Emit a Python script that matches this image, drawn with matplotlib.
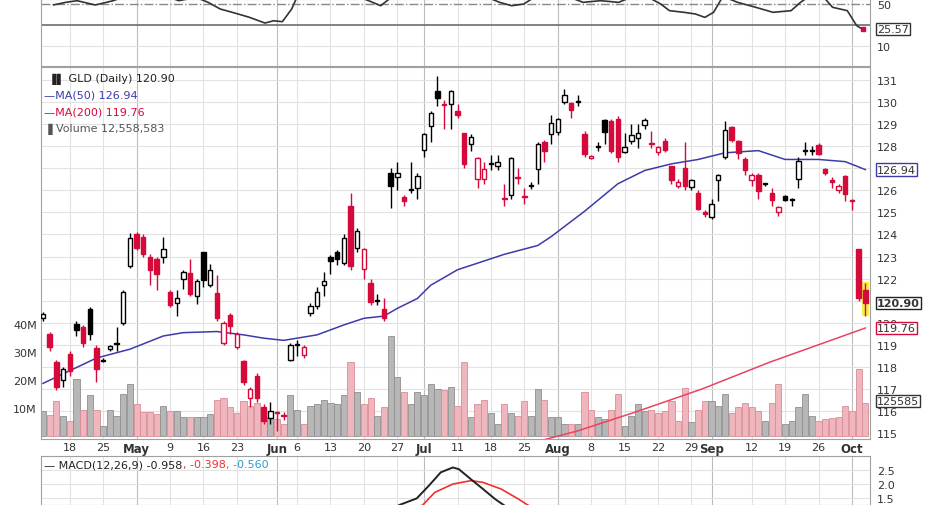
import matplotlib
matplotlib.use("Agg")
import matplotlib.pyplot as plt
import numpy as np
from matplotlib.patches import Rectangle

# daily candles, Apr 12 .. Oct 5 (trading days)
opens = [120.2, 119.5, 118.2, 117.4,
         118.6, 119.95, 119.8, 120.6, 118.85,
         118.3, 118.8, 119.05, 120.0, 122.55,
         124.0, 123.9, 123.0, 122.9, 123.0,
         121.4, 120.9, 122.0, 122.25, 121.2,
         123.2, 121.7, 121.35, 119.1, 120.35,
         118.9, 118.25, 116.6, 117.6, 116.2,
         115.7, 115.95, 115.8, 118.3,
         119.0, 118.55, 120.45, 120.75, 121.7,
         123.0, 123.2, 122.7, 125.3, 123.4,
         122.45, 121.8, 121.0, 120.6, 126.8,
         126.6, 125.7, 126.0, 126.1, 127.85,
         128.9, 130.5, 129.9, 129.9,
         129.6, 128.6, 128.1, 126.5, 126.5,
         127.2, 127.1, 125.65, 125.8, 126.6,
         125.75, 126.2, 126.95, 128.2, 128.55,
         128.65, 130.0, 129.98, 130.05, 128.55,
         127.45, 127.95, 129.2, 129.15, 129.25,
         127.75, 128.25, 128.35, 128.95, 128.15,
         127.75, 128.25, 127.1, 126.2, 127.0,
         126.15, 125.9, 125.0, 124.8, 126.45,
         127.5, 128.85, 128.25, 127.4,
         126.45, 126.7, 126.32, 125.9, 125.0,
         125.75, 125.56, 126.5, 127.8, 127.8,
         128.05, 126.95, 126.45, 126.0, 126.65,
         125.55, 123.35, 121.5]
closes = [120.4, 118.9, 117.1, 117.9,
          117.8, 119.65, 119.1, 119.5, 117.9,
          118.28, 118.95, 119.1, 121.4, 123.85,
          123.4, 123.1, 122.4, 122.2, 123.35,
          120.8, 121.1, 122.3, 121.3, 121.9,
          121.95, 122.4, 120.2, 120.0, 119.85,
          119.5, 117.3, 117.0, 116.6, 115.55,
          116.0, 115.9, 115.75, 119.0,
          119.05, 118.9, 120.75, 121.4, 121.9,
          122.8, 122.9, 123.85, 122.55, 124.15,
          123.35, 120.95, 121.05, 120.2, 126.2,
          126.8, 125.5, 126.05, 126.65, 128.55,
          129.5, 130.2, 129.85, 130.5,
          129.4, 127.2, 128.4, 127.45, 126.95,
          127.25, 127.3, 125.6, 127.45, 126.55,
          125.7, 126.25, 128.1, 127.8, 129.05,
          129.25, 130.3, 129.65, 130.0, 127.65,
          127.55, 128.0, 128.65, 127.8, 127.5,
          127.95, 128.5, 128.6, 129.2, 128.1,
          127.95, 127.85, 126.45, 126.4, 126.2,
          126.45, 125.15, 124.95, 125.4, 126.7,
          128.75, 128.3, 127.7, 126.9,
          126.7, 125.95, 126.3, 125.55, 125.25,
          125.55, 125.55, 127.35, 127.82, 127.85,
          127.65, 126.8, 126.4, 126.2, 125.85,
          125.5, 121.1, 120.9]
highs = [120.5, 119.6, 118.3, 118.0,
         118.7, 120.1, 119.9, 120.7, 119.0,
         118.4, 119.0, 119.8, 121.5, 124.05,
         124.1, 124.0, 123.1, 123.0, 123.9,
         121.5, 121.5, 122.4, 122.9, 122.0,
         123.2, 122.65, 122.15, 120.1, 120.45,
         119.6, 118.3, 117.1, 117.7, 116.3,
         116.4, 116.0, 115.95, 119.1,
         119.2, 119.0, 120.9, 121.6, 122.3,
         123.05, 123.3, 124.0, 125.9, 124.3,
         123.4, 122.0, 121.3, 121.1, 127.0,
         127.3, 125.8, 127.3, 126.8, 128.6,
         129.6, 131.2, 130.1, 130.55,
         129.9, 128.6, 128.55, 127.5, 127.3,
         127.6, 127.6, 126.3, 127.5, 127.0,
         126.1, 126.4, 128.2, 128.3, 129.4,
         129.3, 130.6, 130.0, 130.3, 128.7,
         127.6, 128.2, 129.25, 129.25, 129.35,
         128.6, 129.0, 129.0, 129.3, 128.7,
         128.0, 128.35, 127.1, 126.5, 128.2,
         126.5, 126.0, 125.1, 125.6, 126.75,
         129.15, 128.9, 128.3, 127.5,
         126.8, 126.8, 126.35, 126.1, 125.3,
         125.8, 125.65, 127.5, 128.2, 128.0,
         128.15, 127.0, 126.6, 126.3, 126.7,
         125.6, 123.35, 121.8]
lows = [120.1, 118.7, 116.95, 117.1,
        117.6, 119.4, 118.9, 119.2, 117.3,
        118.2, 118.7, 118.7, 119.9, 122.5,
        123.3, 123.0, 121.7, 121.5, 122.7,
        120.7, 120.3, 121.55, 121.2, 120.85,
        121.6, 121.6, 120.1, 119.0, 119.5,
        118.8, 117.2, 116.2, 116.4, 115.4,
        115.4, 115.1, 115.6, 118.25,
        118.5, 118.4, 120.3, 120.6, 121.2,
        122.2, 122.6, 122.6, 122.4, 123.2,
        122.0, 120.8, 120.8, 120.1, 125.2,
        126.0, 125.3, 125.9, 125.6, 127.5,
        128.2, 129.8, 128.8, 128.8,
        129.3, 127.0, 127.8, 126.1, 126.3,
        126.9, 126.9, 125.3, 125.6, 126.3,
        125.4, 126.05, 126.3, 127.3, 128.1,
        128.5, 129.9, 129.3, 129.8, 127.5,
        127.4, 127.8, 128.1, 127.7, 127.3,
        127.7, 128.1, 127.9, 128.8, 127.9,
        127.6, 127.75, 126.3, 126.1, 126.0,
        126.0, 125.1, 124.8, 124.7, 125.5,
        127.4, 128.2, 127.4, 126.7,
        126.2, 125.6, 126.2, 125.3, 124.85,
        125.5, 125.3, 126.1, 127.6, 127.6,
        127.6, 126.7, 126.1, 125.9, 125.5,
        125.1, 121.0, 120.3]
# volume in millions
volume = [8.9, 7.7, 12.5, 7.1,
          5.6, 20.5, 9.5, 14.6, 9.5,
          3.8, 9.5, 7.1, 15.2, 18.7,
          11.4, 8.6, 8.6, 8.1, 10.9,
          8.9, 8.9, 6.9, 6.7, 6.9,
          6.7, 8.1, 13.0, 13.6, 10.3,
          8.3, 12.5, 10.9, 11.9, 6.2,
          6.7, 6.2, 4.4, 14.6,
          9.5, 4.4, 10.9, 11.4, 13.0,
          11.9, 11.4, 14.6, 26.4, 15.8,
          11.4, 13.6, 7.1, 10.3, 35.9,
          21.0, 15.8, 11.4, 15.8, 14.6,
          18.7, 17.0, 16.4, 17.6,
          10.9, 26.4, 6.7, 11.4, 13.0,
          8.3, 4.4, 11.4, 8.3, 7.1,
          12.5, 7.1, 16.9, 13.0, 6.7,
          7.0, 4.4, 4.4, 4.4, 15.8,
          9.5, 6.7, 6.2, 9.5, 15.2,
          3.8, 7.1, 11.4, 8.9, 9.5,
          8.3, 8.9, 12.5, 5.6, 17.4,
          5.0, 9.5, 12.5, 12.5, 10.9,
          15.2, 8.3, 10.3, 11.9,
          10.3, 8.9, 5.6, 11.9, 18.6,
          4.4, 5.6, 10.3, 15.2, 7.1,
          5.6, 6.2, 6.4, 6.7, 10.9,
          8.9, 24.2, 11.9]

ma50_idx = [0, 8, 13, 18, 21, 26, 30, 33, 36, 41, 45, 48, 51, 53, 56, 58, 62, 65,
            69, 74, 76, 81, 86, 90, 94, 98, 102, 107, 111, 116, 120, 123]
ma50_val = [117.25, 118.4, 118.8, 119.4, 119.55, 119.6, 119.45, 119.3, 119.2, 119.45,
            119.9, 120.2, 120.3, 120.65, 121.1, 121.7, 122.4, 122.7,
            123.1, 123.5, 123.9, 125.05, 126.3, 126.9, 127.2, 127.4, 127.7, 127.8,
            127.4, 127.4, 127.3, 126.94]
ma200_idx = [70, 80, 88.6, 98.6, 108.6, 123]
ma200_val = [114.3, 115.1, 115.95, 117.0, 118.2, 119.76]

rsi_idx = [1.6, 3.4, 5.1, 7.8, 9.1, 10.5, 12.3, 18.5, 20.3, 22.9, 24.7, 26.5, 29.2, 30.9,
           33.2, 34.5, 35.8, 37.2, 38.1, 45, 48.7, 50.5, 52.3, 65, 68.3, 70.1, 71.9, 73.7,
           78, 80.8, 83.4, 86.1, 87.9, 90.6, 92.4, 93.7, 95.9, 97.6, 99, 100.3, 101.7,
           103.9, 106.6, 109.2, 111.9, 113.3, 114.6, 116.8, 118.1, 120.3, 121.7, 122.6]
rsi_val = [48.9, 51.3, 52.9, 48.8, 50.7, 52.9, 57, 57, 52.9, 56, 51.3, 45.0, 40.2, 37.0,
           31.6, 33.8, 32.9, 45.0, 58, 62, 52.9, 48.1, 57, 60, 51.3, 48.1, 49.7, 57,
           58, 51.3, 52.9, 51.3, 56, 56, 49.7, 43.4, 41.8, 40.2, 37.0, 41.8, 57,
           51.3, 46.6, 41.8, 43.4, 51.3, 57, 56, 46.6, 43.4, 29.2, 25.57]

macd_idx = [50, 53.3, 55.9, 57.7, 59.5, 61.3, 62.2, 64, 65.8, 67.6, 68.9, 72]
macd_val = [0.8, 1.27, 1.50, 1.94, 2.41, 2.58, 2.52, 2.17, 1.83, 1.48, 1.27, 0.8]
sig_idx = [53, 56.8, 58.6, 61.3, 64, 65.8, 68.5, 71.1, 72.5, 76]
sig_val = [0.9, 1.27, 1.71, 2.0, 2.12, 2.06, 1.83, 1.48, 1.27, 0.9]

tick_idx = [4, 9, 14, 19, 24, 29, 35, 38, 43, 48, 53, 57, 62, 67, 72, 77, 82, 87, 92, 97,
            100, 106, 111, 116, 121]
tick_lbl = ["18", "25", "May", "9", "16", "23", "Jun", "6", "13", "20", "27", "Jul", "11",
            "18", "25", "Aug", "8", "15", "22", "29", "Sep", "12", "19", "26", "Oct"]
months = {"May", "Jun", "Jul", "Aug", "Sep", "Oct"}
price_ticks = [115, 116, 117, 118, 119, 120, 122, 123, 124, 125, 126, 128, 129, 130, 131]

RED = "#d6093b"
BLUE = "#3b3bab"
GRID = "#e2e2e2"
MGRID = "#bdbdbd"
TXT = "#333333"

n = len(closes)
idx = np.arange(n)
xlim = (-0.3, n - 0.3)

W, H = 931, 506
fig = plt.figure(figsize=(W / 100, H / 100), dpi=100)
L, R = 41 / W, 870 / W


def rect(top, bottom):
    return [L, 1 - bottom / H, R - L, (bottom - top) / H]


def vgrid(ax):
    for t, lb in zip(tick_idx, tick_lbl):
        ax.axvline(t, color=MGRID if lb in months else GRID, lw=0.8, zorder=0)


def style(ax):
    for s in ax.spines.values():
        s.set_color("#a0a0a0")
        s.set_linewidth(0.8)


def tag(ax, val, txt, ec, fw="normal"):
    ax.text(1.008, val, txt, transform=ax.get_yaxis_transform(), fontsize=8, fontweight=fw,
            va="center", ha="left", color=TXT, zorder=6,
            bbox=dict(boxstyle="square,pad=0.1", fc="white", ec=ec, lw=1))


# ---- RSI panel
ax_rsi = fig.add_axes(rect(0, 67))
ax_rsi.set_xlim(*xlim)
ax_rsi.set_ylim(-9.3, 54.5)
vgrid(ax_rsi)
ax_rsi.axhline(10, color=GRID, lw=0.8, zorder=0)
ax_rsi.axhline(50, color="#888888", lw=1, ls="-.", zorder=1)
ax_rsi.axhline(30, color="#777777", lw=1.3, zorder=1)
ax_rsi.plot(rsi_idx, rsi_val, color="#333333", lw=1.2, zorder=3)
ax_rsi.plot(rsi_idx[-1], rsi_val[-1], marker="s", ms=3, color=RED, zorder=4)
ax_rsi.set_xticks([])
ax_rsi.yaxis.tick_right()
ax_rsi.set_yticks([10, 50])
ax_rsi.tick_params(axis="y", length=0, labelsize=8, labelcolor=TXT, pad=5)
tag(ax_rsi, 25.57, "25.57", "#333333")
style(ax_rsi)

# ---- MACD panel (added before price panel so date labels stay on top)
ax_m = fig.add_axes(rect(457, 506))
ax_m.set_xlim(*xlim)
ax_m.set_ylim(1.27, 2.98)
vgrid(ax_m)
for v in (1.5, 2.0, 2.5):
    ax_m.axhline(v, color=GRID, lw=0.8, zorder=0)
ax_m.plot(sig_idx, sig_val, color="#f03030", lw=1.2)
ax_m.plot(macd_idx, macd_val, color="#222222", lw=1.4)
ax_m.set_xticks([])
ax_m.yaxis.tick_right()
ax_m.set_yticks([1.5, 2.0, 2.5])
ax_m.tick_params(axis="y", length=0, labelsize=8, labelcolor=TXT, pad=5)
style(ax_m)

# ---- price panel: grid, volume, candles
rect_main = rect(68, 440)
ax_grid = fig.add_axes(rect_main)
ax_vol = fig.add_axes(rect_main)
ax = fig.add_axes(rect_main)
for a in (ax_vol, ax):
    a.patch.set_visible(False)
for a in (ax_grid, ax_vol, ax):
    a.set_xlim(*xlim)
ax_grid.set_ylim(114.73, 131.59)
ax.set_ylim(114.73, 131.59)
vgrid(ax_grid)
for p in range(115, 132):
    ax_grid.axhline(p, color=GRID, lw=0.8, zorder=0)
ax_grid.set_xticks([])
ax_grid.set_yticks([])
for s in ax_grid.spines.values():
    s.set_visible(False)

prev = np.r_[closes[0], closes[:-1]]
up = np.array(closes) >= prev
ax_vol.bar(idx, volume, width=0.92, color=np.where(up, "#b7b7b7", "#f0b6bd"),
           edgecolor=np.where(up, "#8f8f8f", "#d98c97"), lw=0.6)
ax_vol.set_ylim(-1, 132)
ax_vol.set_xticks([])
ax_vol.set_yticks([10, 20, 30, 40], ["10M", "20M", "30M", "40M"])
ax_vol.tick_params(axis="y", length=0, labelsize=8, labelcolor=TXT, pad=3)
tag(ax_vol, 12.558583, "125585", "#333333")
for s in ax_vol.spines.values():
    s.set_visible(False)

ax.plot(ma200_idx, ma200_val, color="#e8445f", lw=1.1, zorder=2)
ax.plot(ma50_idx, ma50_val, color=BLUE, lw=1.1, zorder=2)
ax.add_patch(Rectangle((n - 1.5, 120.3), 1.0, 1.55, fc="#f5ef4a", ec="none", zorder=1))

o = np.array(opens)
c = np.array(closes)
col = np.where(up, "black", RED)
hollow = c > o
ax.vlines(idx, lows, highs, colors=col, lw=1, zorder=3)
body_h = np.maximum(np.abs(c - o), 0.04)
ax.bar(idx, body_h, bottom=np.minimum(o, c), width=0.66,
       color=np.where(hollow, "white", col), edgecolor=col, lw=1, zorder=4)

ax.yaxis.tick_right()
ax.set_yticks(price_ticks)
ax.tick_params(axis="y", length=0, labelsize=8, labelcolor=TXT, pad=5)
ax.set_xticks(tick_idx, tick_lbl)
ax.tick_params(axis="x", length=0, labelsize=8, labelcolor=TXT, pad=2)
for t in ax.get_xticklabels():
    if t.get_text() in months:
        t.set_fontweight("bold")
        t.set_fontsize(8.5)
style(ax)
tag(ax, 126.94, "126.94", BLUE)
tag(ax, 120.90, "120.90", "#222222", "bold")
tag(ax, 119.76, "119.76", RED)

lg = dict(transform=ax.transAxes, fontsize=8, va="top", ha="left")
ax.text(0.008, 0.985, "\u2590\u258c GLD (Daily) 120.90", color="#222222", **lg)
ax.text(0.004, 0.94, "\u2014MA(50) 126.94", color=BLUE, **lg)
ax.text(0.004, 0.895, "\u2014MA(200) 119.76", color=RED, **lg)
ax.text(0.004, 0.85, "\u2590 Volume 12,558,583", color="#555555", **lg)

# MACD legend, pieces laid out one after another
fig.canvas.draw()
rend = fig.canvas.get_renderer()
x0, y0 = 0.004, 0.93
for txt, colr in [("\u2014 MACD(12,26,9) -0.958", "#222222"), (", -0.398", "#f03030"),
                  (", -0.560", "#3399cc")]:
    t = ax_m.text(x0, y0, txt, color=colr, transform=ax_m.transAxes, fontsize=8,
                  va="top", ha="left")
    bb = t.get_window_extent(rend).transformed(ax_m.transAxes.inverted())
    x0 = bb.x1

fig.savefig("out.png", dpi=100)
